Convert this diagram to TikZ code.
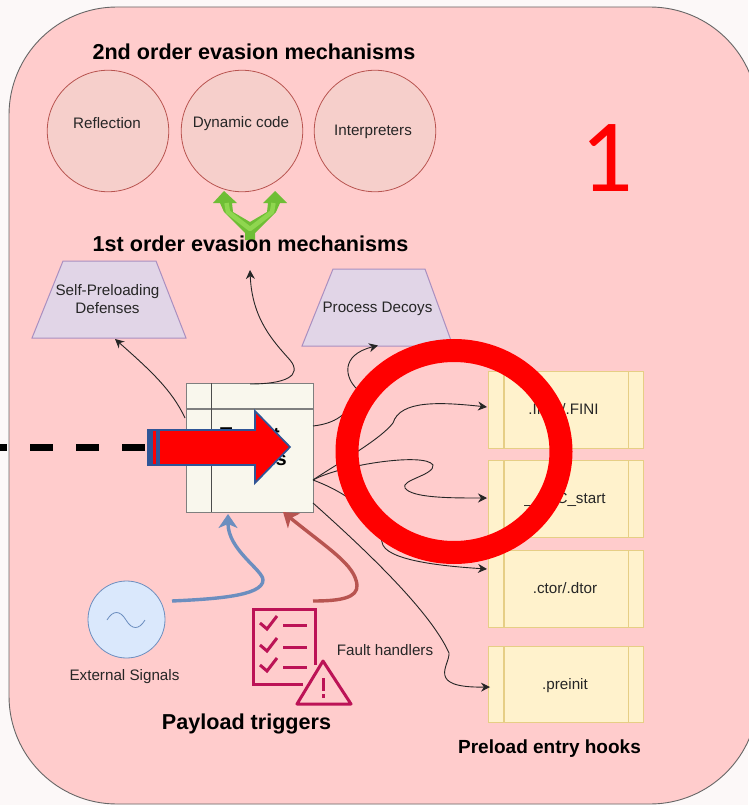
\documentclass[tikz,border=0pt]{standalone}
\usepackage{fontspec}
\setmainfont{Liberation Sans}
\newfontfamily\bigdigit{Carlito}
\usetikzlibrary{arrows.meta}
\definecolor{outside}{HTML}{FCF8F8}
\definecolor{pagepink}{HTML}{FFCCCC}
\definecolor{circfill}{HTML}{F6CFCB}
\definecolor{circline}{HTML}{B85450}
\definecolor{trapfill}{HTML}{E1D5E7}
\definecolor{trapline}{HTML}{A98FC0}
\definecolor{hookfill}{HTML}{FFF2CC}
\definecolor{hookline}{HTML}{E6CE85}
\definecolor{boxfill}{HTML}{F9F7ED}
\definecolor{boxline}{HTML}{7F7F7F}
\definecolor{bluearrow}{HTML}{6C8EBF}
\definecolor{extfill}{HTML}{DAE8FC}
\definecolor{faultcol}{HTML}{BC1356}
\definecolor{arrowedge}{HTML}{2F5597}
\definecolor{greenout}{HTML}{6FBE35}
\definecolor{greenin}{HTML}{8FD64F}
\tikzset{
  x=1pt,y=-1pt,
  lbl/.style={font=\fontsize{15.2}{18}\selectfont,text=black!85,align=center,inner sep=0pt},
  head/.style={font=\bfseries\fontsize{21.6}{24}\selectfont,text=black,inner sep=0pt},
  evcirc/.style={circle,draw=circline,fill=circfill,minimum size=121.5pt,inner sep=0pt,line width=.8pt},
  trapbox/.style={draw=trapline,fill=trapfill,line width=1pt},
  hook/.style={draw=hookline,fill=hookfill,line width=1.4pt,minimum width=155pt,minimum height=77pt,anchor=north west,inner sep=0pt},
  conn/.style={black!85,line width=.9pt,-{Stealth[length=9pt,width=9pt]}},
  icon/.style={faultcol,line width=3pt},
  thick arrow/.style={line width=3.4pt,-{Stealth[length=14pt,width=19pt,inset=4pt]}},
}
\begin{document}
\begin{tikzpicture}
\useasboundingbox (0,0) rectangle (748,805);
\fill[outside] (0,0) rectangle (748,805);
\path[draw=black!60,fill=pagepink,line width=.9pt,rounded corners=108pt] (9,7) rectangle (758,804);
% circles
\node[evcirc] (refl) at (108,131) {};
\node[evcirc] (dyn) at (242,131) {};
\node[evcirc] (interp) at (375,131) {};
\node[lbl] at (107,123) {Reflection};
\node[lbl] at (241,123.5) {Dynamic code};
\node[lbl] at (373,132) {Interpreters};
\node[head] (h2) at (254,51.5) {2nd order evasion mechanisms};
% green double arrow
\fill[greenout,line join=round]
 (245,240) -- (245,233) -- (224,212) -- (220,203) -- (213,203) -- (224,191) -- (237,203) -- (232,203) -- (233,212) -- (250,222)
 -- (267,212) -- (268,203) -- (263,203) -- (275,191) -- (287,203) -- (280,203) -- (276,212) -- (255,233) -- (255,240) -- cycle;
\draw[greenin,line width=4.5pt,line join=round] (226.5,203) -- (228,212) -- (250,229) -- (272,212) -- (273.5,203);
\node[head] (h1) at (250.5,244) {1st order evasion mechanisms};
% trapezoids
\path[trapbox] (63,261) -- (156,261) -- (186,338) -- (32,338) -- cycle;
\coordinate (selfb) at (115,339);
\node[lbl] (selfp) at (107.5,299) {Self-Preloading\\Defenses};
\path[trapbox] (333,269) -- (425,269) -- (453,346) -- (302,346) -- cycle;
\coordinate (decb) at (378,345.5);
\node[lbl] (decoy) at (377.5,308.5) {Process Decoys};
% hooks
\node[hook] (h1k) at (488,371) {};
\node[hook] (h2k) at (488,460) {};
\node[hook] (h3k) at (488,550) {};
\node[hook,minimum height=76pt] (h4k) at (488,646) {};
\foreach \n in {h1k,h2k,h3k,h4k}{
  \draw[hookline,line width=1.4pt] ([xshift=16pt]\n.north west) -- ([xshift=16pt]\n.south west);
  \draw[hookline,line width=1.4pt] ([xshift=-16pt]\n.north east) -- ([xshift=-16pt]\n.south east);
}
\node[lbl] at (563.5,409) {.INIT/.FINI};
\node[lbl] at (565,499) {\_\_libC\_start};
\node[lbl] at (565,588) {.ctor/.dtor};
\node[lbl] at (565,686) {.preinit};
\node[head,font=\bfseries\fontsize{19}{22}\selectfont] at (549.5,748.5) {Preload entry hooks};
% central box
\node[draw=boxline,fill=boxfill,line width=1.1pt,minimum width=127pt,minimum height=129pt,anchor=north west,inner sep=0pt] (box) at (186,383) {};
\draw[boxline,line width=1.1pt] (186,409) -- (313,409);
\draw[black!70,line width=.9pt] (211,383) -- (211,512);
\node[font=\bfseries\fontsize{20}{24}\selectfont,align=center,inner sep=0pt] (boxtext) at (250,447) {Target\\Actions};
% connectors
\coordinate (bl) at (185,418);
\coordinate (bt) at (250,384);
\coordinate (br1) at (313,426);
\coordinate (br2) at (313,480);
\coordinate (br3) at (313,503);
\draw[conn] (bl) .. controls (172,390) and (150,370) .. (selfb);
\draw[conn] (bt) .. controls (285,384) and (303,376) .. (290,360) .. controls (272,340) and (252,318) .. (250,270);
\draw[conn] (br1) .. controls (340,423) and (352,410) .. (357,389) .. controls (345,378) and (340,355) .. (decb);
\draw[conn] (br2) .. controls (335,465) and (380,440) .. (393,423) .. controls (400,400) and (440,402) .. (487,407);
\draw[conn] (br2) .. controls (340,465) and (425,452) .. (433,465) .. controls (435,475) and (400,480) .. (405,488) .. controls (412,498) and (450,498) .. (487,498);
\draw[conn] (br2) .. controls (340,490) and (375,510) .. (382,542) .. controls (384,560) and (440,566) .. (487,569);
\draw[conn] (br3) .. controls (360,545) and (430,610) .. (449,653) .. controls (450,665) and (425,688) .. (490,687);
% external
\node[circle,draw=bluearrow,fill=extfill,line width=.8pt,minimum size=77pt,inner sep=0pt] (ext) at (126.5,619.5) {};
\draw[bluearrow,line width=.8pt] (107,620) .. controls (113,610) and (120,610) .. (126,620) .. controls (132,630) and (139,630) .. (145,620);
\node[lbl] at (124.5,677) {External Signals};
\draw[bluearrow,thick arrow] (172,601) .. controls (215,599) and (263,596) .. (263,580) .. controls (263,570) and (228,550) .. (228,514);
\draw[circline,thick arrow] (313,601) .. controls (340,601) and (358,598) .. (357,585) .. controls (355,565) and (330,550) .. (283,512);
% fault icon
\draw[icon] (303,684) -- (253,684) -- (253,609) -- (315,609) -- (315,665);
\foreach \y in {625,647,667}{
  \draw[icon] (260,\y-2) -- (267,\y+4) -- (277,\y-9);
  \draw[icon] (283,\y) -- (307,\y);
}
\draw[icon,line join=round] (323,661) -- (351,704) -- (297,704) -- cycle;
\draw[icon] (323,678) -- (323,691);
\fill[faultcol] (321.5,694) rectangle (324.5,697.5);
\node[lbl] at (385,650.5) {Fault handlers};
\node[head] at (246.5,723.5) {Payload triggers};
% big 1
\node[font=\bigdigit\fontsize{104}{104}\selectfont,text=red,inner sep=0pt] at (607,158) {1};
% red ring
\draw[red,line width=23pt] (454,451.5) ellipse [x radius=107, y radius=101];
% dashed
\draw[black,line width=7pt,dash pattern=on 23pt off 23pt] (-16,447) -- (146,447);
% block arrow
\path[draw=arrowedge,fill=red,line width=1.7pt,line join=miter] (158,430) -- (255,430) -- (255,411) -- (290,447) -- (255,483) -- (255,465) -- (158,465) -- cycle;
\fill[arrowedge] (147,429) rectangle (160,466);
\fill[red] (153,431) rectangle (155.8,464);
\end{tikzpicture}
\end{document}
